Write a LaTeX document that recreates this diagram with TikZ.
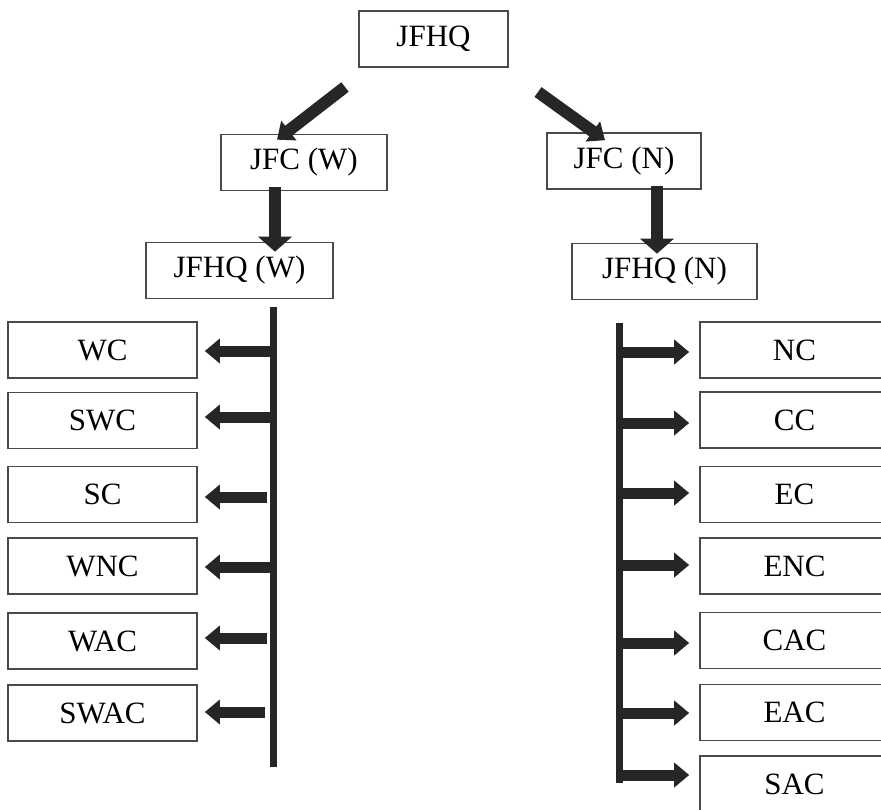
\documentclass[tikz,border=0pt]{standalone}
\usepackage{fontspec}
\setmainfont{Liberation Serif}
\usetikzlibrary{arrows.meta,calc}
\definecolor{boxline}{HTML}{4A4A4A}
\definecolor{arrowfill}{HTML}{262626}
\begin{document}
\begin{tikzpicture}[x=1pt,y=-1pt,
  unit/.style={draw=boxline, line width=1.6pt, fill=white, inner sep=0pt,
    minimum height=56pt, font=\fontsize{31}{37}\selectfont},
  leaf/.style={unit, minimum width=189pt},
  blk/.style={draw=arrowfill, line width=11pt,
    -{Triangle[width=24pt,length=15pt]}},
  bigblk/.style={draw=arrowfill, line width=12pt,
    -{Triangle[width=33pt,length=15pt]}},
  bar/.style={draw=arrowfill, line width=7pt}]
\useasboundingbox (0,0) rectangle (881,809);
\clip (0,0) rectangle (881,809);

% headquarters and the two front commands
\node[unit, minimum width=149pt] (hq)  at (433.5,39)   {JFHQ};
\node[unit, minimum width=166pt] (jfcw) at (304,162.5)  {JFC (W)};
\node[unit, minimum width=154pt] (jfcn) at (624,161)    {JFC (N)};
\node[unit, minimum width=187pt] (hqw) at (239.5,270.5) {JFHQ (W)};
\node[unit, minimum width=185pt] (hqn) at (664.5,271.5) {JFHQ (N)};

% western commands
\node[leaf] (wc)   at (102.5,350) {WC};
\node[leaf] (swc)  at (102.5,420.5) {SWC};
\node[leaf] (sc)   at (102.5,494.5) {SC};
\node[leaf] (wnc)  at (102.5,566) {WNC};
\node[leaf] (wac)  at (102.5,641) {WAC};
\node[leaf] (swac) at (102.5,713) {SWAC};

% northern commands
\node[leaf] (nc)  at (794.5,350) {NC};
\node[leaf] (cc)  at (794.5,420) {CC};
\node[leaf] (ec)  at (794.5,494.5) {EC};
\node[leaf] (enc) at (794.5,566) {ENC};
\node[leaf] (cac) at (794.5,640.5) {CAC};
\node[leaf] (eac) at (794.5,712.5) {EAC};
\node[leaf] (sac) at (794.5,784) {SAC};

% distribution bars
\coordinate (lbtop) at (273,307);
\coordinate (lbbot) at (273,767);
\coordinate (rbtop) at (619,323);
\coordinate (rbbot) at (619,783);
\draw[bar] (lbtop) -- (lbbot);
\draw[bar] (rbtop) -- (rbbot);

% top-level arrows
\coordinate (hqlt) at (345,87);
\coordinate (hqrt) at (538,92);
\draw[blk, line width=12pt] (hqlt) -- ([xshift=-27pt,yshift=-6pt]jfcw.north);
\draw[blk, line width=12pt] (hqrt) -- ([xshift=-19pt,yshift=-8pt]jfcn.north);
\draw[bigblk] ([xshift=-29pt,yshift=4pt]jfcw.south) -- ([xshift=35.5pt,yshift=-10pt]hqw.north);
\draw[bigblk] ([xshift=33pt,yshift=4pt]jfcn.south) -- ([xshift=-7.5pt,yshift=-11pt]hqn.north);

% tap points on the western bar
\coordinate (tw1) at (270,351);
\coordinate (tw2) at (270,417);
\coordinate (tw3) at (267,497);
\coordinate (tw4) at (270,567);
\coordinate (tw5) at (267,638);
\coordinate (tw6) at (265,712);
% tap points on the northern bar
\coordinate (tn1) at (619,352);
\coordinate (tn2) at (619,423);
\coordinate (tn3) at (619,493);
\coordinate (tn4) at (619,565);
\coordinate (tn5) at (619,643);
\coordinate (tn6) at (619,713);
\coordinate (tn7) at (619,775);

% branches to the western commands
\foreach \t/\b in {tw1/wc, tw2/swc, tw3/sc, tw4/wnc, tw5/wac, tw6/swac}
  \draw[blk] (\t) -- ($(\t -| \b.east)+(7,0)$);

% branches to the northern commands
\foreach \t/\b in {tn1/nc, tn2/cc, tn3/ec, tn4/enc, tn5/cac, tn6/eac, tn7/sac}
  \draw[blk] (\t) -- ($(\t -| \b.west)+(-10,0)$);
\end{tikzpicture}
\end{document}
